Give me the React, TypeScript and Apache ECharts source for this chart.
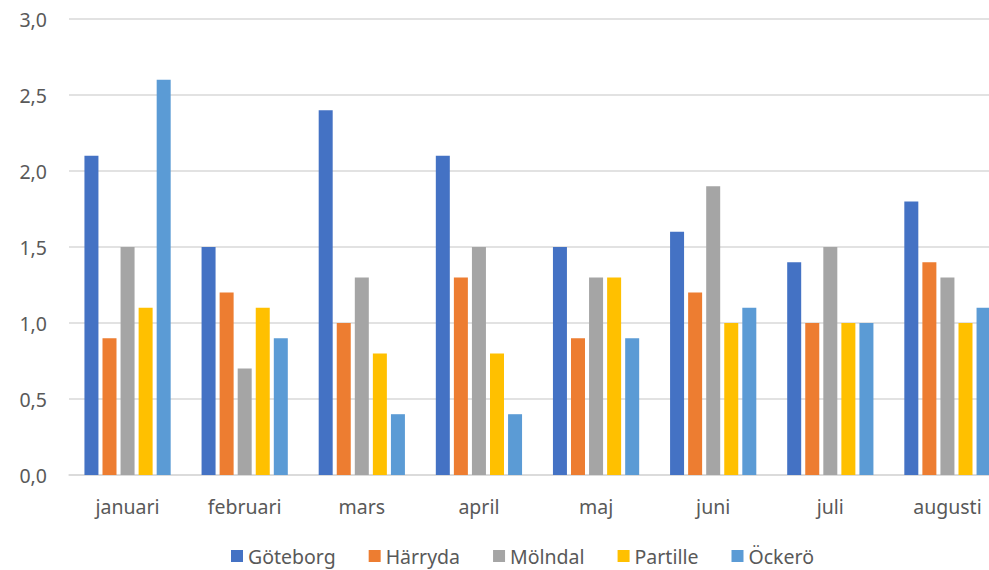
import React, { useEffect, useRef } from "react";
import * as echarts from "echarts";

const categories = ["januari", "februari", "mars", "april", "maj", "juni", "juli", "augusti"];
const seriesNames = ["Göteborg", "Härryda", "Mölndal", "Partille", "Öckerö"];
const goteborg = [2.1, 1.5, 2.4, 2.1, 1.5, 1.6, 1.4, 1.8];
const harryda = [0.9, 1.2, 1.0, 1.3, 0.9, 1.2, 1.0, 1.4];
const molndal = [1.5, 0.7, 1.3, 1.5, 1.3, 1.9, 1.5, 1.3];
const partille = [1.1, 1.1, 0.8, 0.8, 1.3, 1.0, 1.0, 1.0];
const ockero = [2.6, 0.9, 0.4, 0.4, 0.9, 1.1, 1.0, 1.1];
const colors = ["#4472C4", "#ED7D31", "#A5A5A5", "#FFC000", "#5B9BD5"];

export default function App() {
  const ref = useRef<HTMLDivElement>(null);
  useEffect(() => {
    if (!ref.current) return;
    const chart = echarts.init(ref.current, null, { renderer: "svg" });
    const data = [goteborg, harryda, molndal, partille, ockero];
    const font = "Noto Sans";
    chart.setOption({
      animation: false,
      backgroundColor: "#ffffff",
      textStyle: { fontFamily: font },
      grid: { left: 69, right: -17, top: 19, bottom: 95, outerBoundsMode: "none", containLabel: false },
      legend: {
        left: 226,
        bottom: -1,
        itemWidth: 12,
        itemHeight: 12,
        itemGap: 33,
        icon: "rect",
        textStyle: { fontSize: 19.5, color: "#595959", fontFamily: font },
        data: seriesNames,
      },
      xAxis: {
        type: "category",
        data: categories,
        axisTick: { show: false },
        axisLine: { lineStyle: { color: "#d9d9d9", width: 1.5 } },
        axisLabel: { color: "#595959", fontSize: 19.5, margin: 21, fontFamily: font },
      },
      yAxis: {
        type: "value",
        min: 0,
        max: 3,
        interval: 0.5,
        axisLine: { show: false },
        axisTick: { show: false },
        splitLine: { lineStyle: { color: "#d9d9d9", width: 1.5 } },
        axisLabel: {
          color: "#595959",
          fontSize: 19.5,
          margin: 22,
          fontFamily: font,
          formatter: (v: number) => v.toFixed(1).replace(".", ","),
        },
      },
      series: seriesNames.map((name, i) => ({
        name,
        type: "bar",
        data: data[i],
        barWidth: 14,
        barGap: "29%",
        itemStyle: { color: colors[i] },
      })),
    });
    return () => chart.dispose();
  }, []);
  return (
    <div
      ref={ref}
      style={{ position: "fixed", left: 0, top: 0, width: 989, height: 570 }}
    />
  );
}
